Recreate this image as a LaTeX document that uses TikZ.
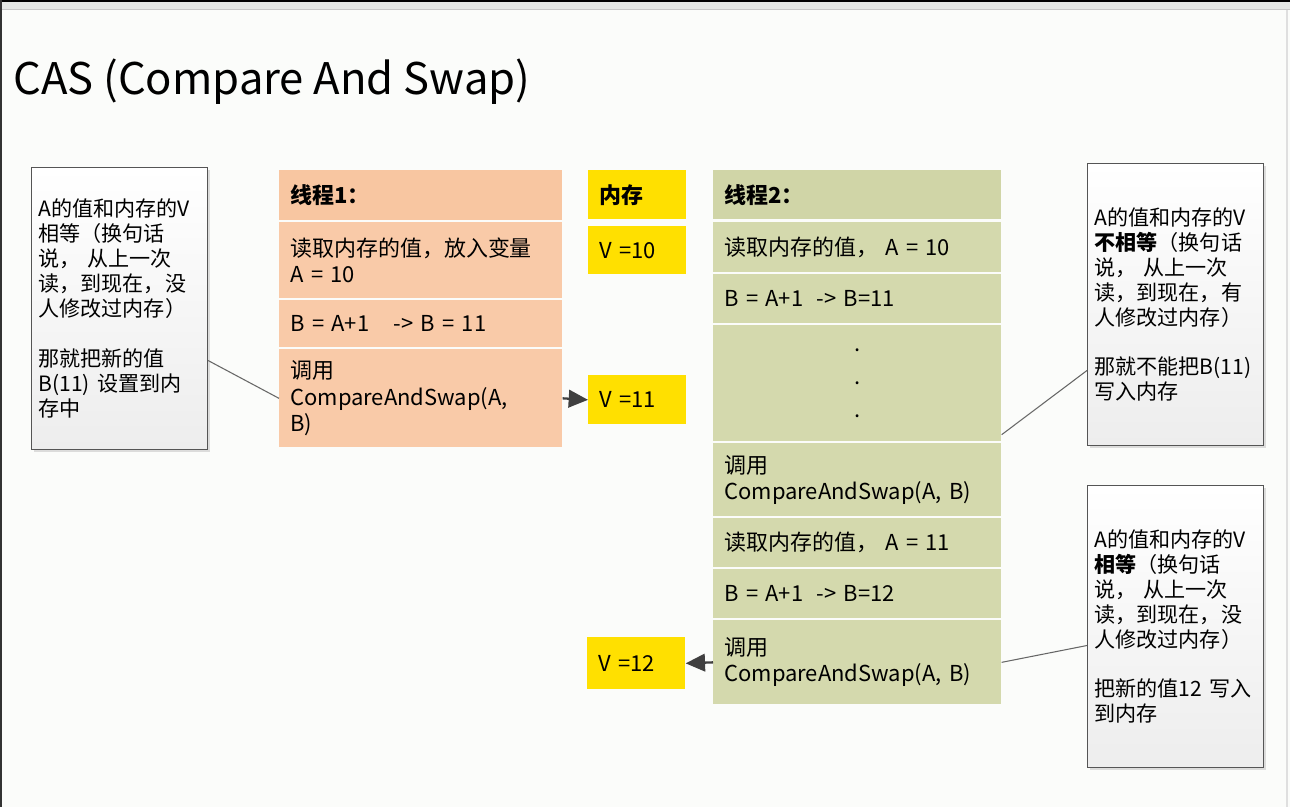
\documentclass[tikz,border=0pt]{standalone}
\usepackage{fontspec}
\setmainfont{Noto Sans CJK SC}
\usepackage{xcolor}
\usepackage{tikz}
\usetikzlibrary{arrows.meta,positioning,shadows}
\definecolor{pagebg}{HTML}{FBFCFA}
\definecolor{topband}{HTML}{E4E6E4}
\definecolor{peach}{HTML}{F9CAA8}
\definecolor{peachhead}{HTML}{F8C6A1}
\definecolor{olive}{HTML}{D4D9AD}
\definecolor{olivehead}{HTML}{D0D5A7}
\definecolor{memyellow}{HTML}{FFE000}
\definecolor{notegray}{HTML}{555555}
\definecolor{noteshade}{HTML}{EDEDED}
\definecolor{linkgray}{HTML}{666666}
\definecolor{arrowgray}{HTML}{404040}

\begin{document}
\begin{tikzpicture}[x=0.02cm, y=-0.02cm,
    cell/.style={anchor=north west, inner xsep=0.22cm, inner ysep=0pt, align=left,
      font=\fontsize{12.5}{15}\selectfont},
    thread1/.style={cell, fill=peach, text width=5.22cm},
    thread2/.style={cell, fill=olive, text width=5.32cm},
    mem/.style={cell, fill=memyellow, text width=1.52cm},
    note/.style={anchor=north west, draw=notegray, line width=0.6pt, top color=white,
      bottom color=noteshade, drop shadow={shadow xshift=1.5pt, shadow yshift=-1.5pt, opacity=0.25},
      inner xsep=0.14cm, text width=3.24cm, minimum height=5.64cm, align=left,
      font=\fontsize{12}{14.2}\selectfont},
    link/.style={draw=linkgray, line width=0.6pt},
    push/.style={draw=arrowgray, line width=1.3pt, -{Triangle[length=11pt,width=10pt]}}]
        \useasboundingbox (0,0) rectangle (1290,807);
        % page frame
        \fill[pagebg] (0,0) rectangle (1290,807);
        \fill[topband] (0,2) rectangle (1290,9);
        \fill[black] (0,0) rectangle (1290,2);
        \draw[gray!45] (0,9.5) -- (1290,9.5);
        \fill[black!80] (0,0) rectangle (2,807);
        \fill[gray!25] (1286,10) rectangle (1288,807);
        \node[anchor=base west, inner sep=0, font=\fontsize{24.8}{28}\selectfont] (title) at (13,95) {CAS (Compare And Swap)};
        % thread 1
        \node[thread1, fill=peachhead, minimum height=1.0cm] (t1a) at (279,170) {\textbf{线程1：}};
        \node[thread1, minimum height=1.52cm] (t1b) at (279,222) {读取内存的值，放入变量\\A = 10};
        \node[thread1, minimum height=0.94cm] (t1c) at (279,300) {B = A+1\hspace{1.1em}-> B = 11};
        \node[thread1, minimum height=1.96cm] (t1d) at (279,349) {调用\\CompareAndSwap(A,\\B)};
        % memory
        \node[mem, minimum height=0.98cm] (ma) at (588,170) {\textbf{内存}};
        \node[mem, minimum height=0.96cm] (mb) at (588,226) {V =10};
        \node[mem, minimum height=0.98cm] (mc) at (588,375) {V =11};
        \node[mem, minimum height=1.04cm] (md) at (587,637) {V =12};
        % thread 2
        \node[thread2, fill=olivehead, minimum height=0.98cm] (t2a) at (713,170) {\textbf{线程2：}};
        \node[thread2, minimum height=1.0cm] (t2b) at (713,222) {读取内存的值， A = 10};
        \node[thread2, minimum height=0.98cm] (t2c) at (713,274) {B = A+1\hspace{0.6em}-> B=11};
        \node[thread2, minimum height=2.32cm, align=center] (t2d) at (713,325) {.\\[4pt].\\[4pt].};
        \node[thread2, minimum height=1.46cm] (t2e) at (713,443) {调用\\CompareAndSwap(A, B)};
        \node[thread2, minimum height=0.98cm] (t2f) at (713,518) {读取内存的值， A = 11};
        \node[thread2, minimum height=0.98cm] (t2g) at (713,569) {B = A+1\hspace{0.6em}-> B=12};
        \node[thread2, minimum height=1.68cm] (t2h) at (713,620) {调用\\CompareAndSwap(A, B)};
        % notes
        \node[note] (noteL) at (31,167) {A的值和内存的V\\相等（换句话\\说， 从上一次\\读，到现在，没\\人修改过内存）\\[14.2pt]那就把新的值\\B(11) 设置到内\\存中};
        \node[note] (noteR1) at (1087,163) {A的值和内存的V\\\textbf{不相等}（换句话\\说， 从上一次\\读，到现在，有\\人修改过内存）\\[14.2pt]那就不能把B(11)\\写入内存};
        \node[note] (noteR2) at (1087,485) {A的值和内存的V\\\textbf{相等}（换句话\\说， 从上一次\\读，到现在，没\\人修改过内存）\\[14.2pt]把新的值12 写入\\到内存};
        % connectors
        \draw[link] ([yshift=-1.04cm]noteL.east) -- (t1d.west);
        \draw[push] (t1d.east) -- (mc.west);
        \draw[link] ([yshift=0.14cm]t2d.south east) -- ([yshift=-1.32cm]noteR1.west);
        \draw[link] (t2h.east) -- ([yshift=-0.38cm]noteR2.west);
        \draw[push] (t2h.west) -- (md.east);
\end{tikzpicture}
\end{document}
